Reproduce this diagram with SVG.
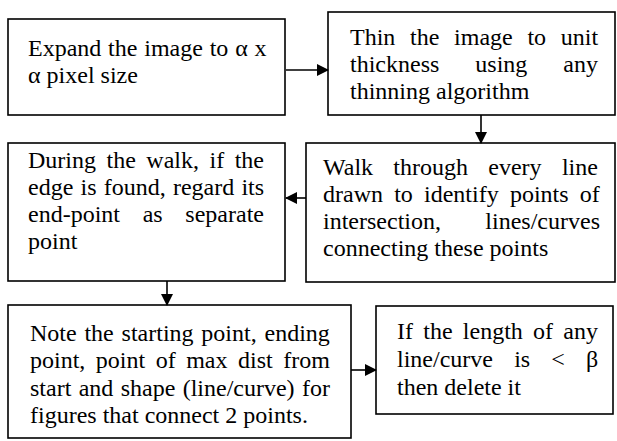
<svg xmlns="http://www.w3.org/2000/svg" width="617" height="441" viewBox="0 0 617 441">
<defs>
<marker id="ah" markerWidth="12" markerHeight="12" refX="11" refY="6" orient="auto" markerUnits="userSpaceOnUse">
<path d="M0,0 L12,6 L0,12 Z" fill="#000"/>
</marker>
<style>
rect.box{fill:#fff;stroke:#000;stroke-width:1.6}
text{font-family:"Liberation Serif","Times New Roman",serif;font-size:24px;fill:#000}
.conn line{stroke:#000;stroke-width:1.6;marker-end:url(#ah)}
</style>
</defs>
<rect width="617" height="441" fill="#fff"/>
<g id="n1">
<rect class="box" x="8" y="19" width="277" height="96"/>
<text x="28" y="56" word-spacing="0.8">Expand the image to α x</text>
<text x="28" y="83">α pixel size</text>
</g>
<g id="n2">
<rect class="box" x="328" y="12" width="287" height="103"/>
<text x="350" y="45" word-spacing="8.7">Thin the image to unit</text>
<text x="350" y="72" word-spacing="30">thickness using any</text>
<text x="350" y="99">thinning algorithm</text>
</g>
<g id="n3">
<rect class="box" x="306" y="143" width="309" height="139"/>
<text x="323" y="175" word-spacing="14.3">Walk through every line</text>
<text x="323" y="202" word-spacing="5.2">drawn to identify points of</text>
<text x="323" y="229" word-spacing="38.4">intersection, lines/curves</text>
<text x="323" y="256">connecting these points</text>
</g>
<g id="n4">
<rect class="box" x="8" y="143" width="277" height="138"/>
<text x="28" y="168" word-spacing="4.5">During the walk, if the</text>
<text x="28" y="195" word-spacing="1.2">edge is found, regard its</text>
<text x="28" y="222" word-spacing="16.7">end-point as separate</text>
<text x="28" y="249">point</text>
</g>
<g id="n5">
<rect class="box" x="8" y="305" width="343" height="133"/>
<text x="30" y="341" word-spacing="1.8">Note the starting point, ending</text>
<text x="30" y="368" word-spacing="4.5">point, point of max dist from</text>
<text x="30" y="396" word-spacing="1.35">start and shape (line/curve) for</text>
<text x="30" y="423">figures that connect 2 points.</text>
</g>
<g id="n6">
<rect class="box" x="376" y="306" width="237" height="108"/>
<text x="397" y="339" word-spacing="4.25">If the length of any</text>
<text x="397" y="367" word-spacing="15.2">line/curve is &lt; β</text>
<text x="397" y="395">then delete it</text>
</g>
<g id="connectors" class="conn">
<line x1="286" y1="70" x2="328" y2="70"/>
<line x1="481" y1="115" x2="481" y2="143"/>
<line x1="306" y1="198" x2="286" y2="198"/>
<line x1="167" y1="281" x2="167" y2="305"/>
<line x1="351" y1="370" x2="376" y2="370"/>
</g>
</svg>
